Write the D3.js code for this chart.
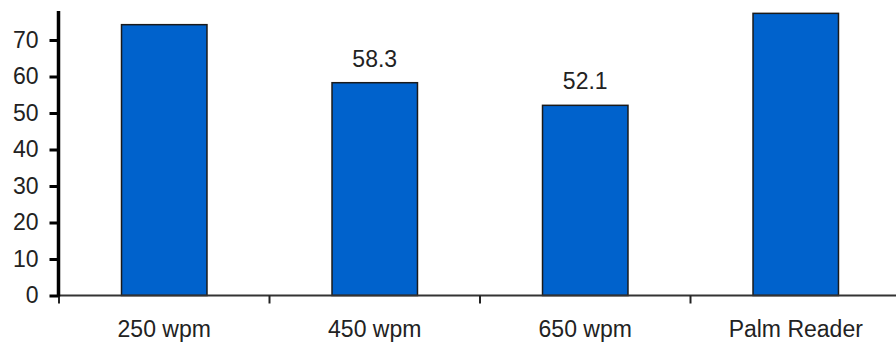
<!DOCTYPE html>
<html>
<head>
<meta charset="utf-8">
<script src="https://cdn.jsdelivr.net/npm/d3@7"></script>
<style>
  html, body { margin: 0; padding: 0; background: #fff; }
  svg { display: block; }
  text { font-family: Arial, "Liberation Sans", sans-serif; fill: #222; }
</style>
</head>
<body>
<svg id="chart" width="896" height="345"></svg>
<script>
const categories = ["250 wpm", "450 wpm", "650 wpm", "Palm Reader"];
const values = [74.2, 58.3, 52.1, 77.3];
const shownLabels = [null, "58.3", "52.1", null];
const yTicks = [0, 10, 20, 30, 40, 50, 60, 70, 80];

const W = 896, H = 345;
const svg = d3.select("#chart");

const x = d3.scaleBand()
  .domain(categories)
  .range([59, 901])
  .paddingInner(0.594)
  .paddingOuter(0.297);

const y = d3.scaleLinear()
  .domain([0, 80])
  .range([295.5, 3.5]);

// clip region: top of plot is cut off at y=11
svg.append("defs").append("clipPath").attr("id", "clipTop")
  .append("rect").attr("x", -200).attr("y", 11).attr("width", W + 400).attr("height", H);

// bars
svg.append("g").selectAll("rect")
  .data(categories)
  .join("rect")
  .attr("x", d => x(d))
  .attr("y", (d, i) => y(values[i]))
  .attr("width", x.bandwidth())
  .attr("height", (d, i) => y(0) - y(values[i]))
  .attr("fill", "#0062CC")
  .attr("stroke", "#1a1a1a")
  .attr("stroke-width", 1.5);

// value labels
svg.append("g").selectAll("text")
  .data(categories.filter((d, i) => shownLabels[i] !== null))
  .join("text")
  .attr("x", d => x(d) + x.bandwidth() / 2)
  .attr("y", d => y(values[categories.indexOf(d)]) - 16)
  .attr("text-anchor", "middle")
  .attr("font-size", 23)
  .text(d => shownLabels[categories.indexOf(d)]);

// x axis
const gx = svg.append("g").attr("transform", "translate(0,295.5)");
gx.append("line")
  .attr("x1", 59).attr("x2", W)
  .attr("stroke", "#333").attr("stroke-width", 2);
// boundary ticks between categories
const bounds = categories.map(d => x(d) - x.step() * x.paddingOuter()).concat([x.range()[1]]);
gx.selectAll("line.tk")
  .data(bounds)
  .join("line")
  .attr("class", "tk")
  .attr("x1", d => d).attr("x2", d => d)
  .attr("y1", 0).attr("y2", 8)
  .attr("stroke", "#222").attr("stroke-width", 2);
gx.selectAll("text")
  .data(categories)
  .join("text")
  .attr("x", d => x(d) + x.bandwidth() / 2)
  .attr("y", 41)
  .attr("text-anchor", "middle")
  .attr("font-size", 23)
  .text(d => d);

// y axis
const yAxis = d3.axisLeft(y)
  .tickValues(yTicks)
  .tickSize(9)
  .tickPadding(11)
  .tickFormat(d3.format("d"));
const gy = svg.append("g")
  .attr("transform", "translate(58.5,0)")
  .attr("clip-path", "url(#clipTop)")
  .call(yAxis);
gy.select(".domain").remove();
gy.append("line")
  .attr("x1", 0).attr("x2", 0)
  .attr("y1", y(80)).attr("y2", y(0) + 1)
  .attr("stroke", "#000").attr("stroke-width", 3.5);
gy.selectAll(".tick line")
  .attr("stroke", "#000").attr("stroke-width", 3);
gy.selectAll(".tick text")
  .attr("font-size", 23)
  .attr("font-family", "Arial, 'Liberation Sans', sans-serif")
  .attr("fill", "#222");
</script>
</body>
</html>
